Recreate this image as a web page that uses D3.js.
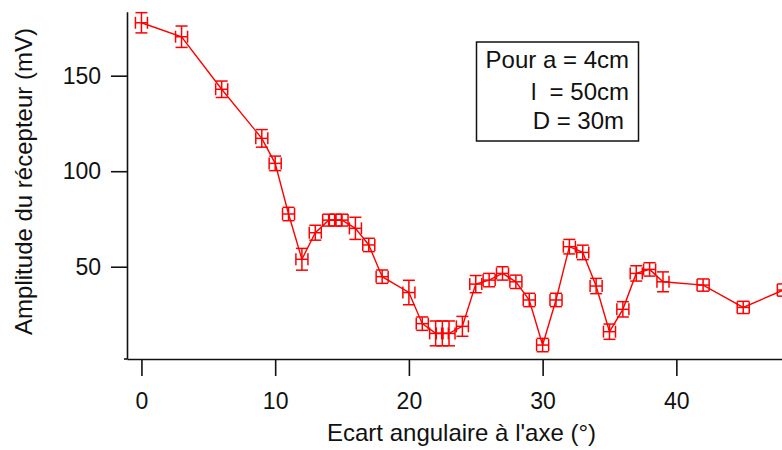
<!DOCTYPE html>
<html>
<head>
<meta charset="utf-8">
<script src="https://cdn.jsdelivr.net/npm/d3@7"></script>
<style>
  body { margin: 0; background: #fff; }
  svg { display: block; font-family: "Liberation Sans", Arial, sans-serif; }
</style>
</head>
<body>
<div id="root"></div>
<script>
'use strict';

var width = 782;
var height = 450;

// angle from the axis (degrees) and receiver amplitude (mV)
var angles = [0, 3, 6, 9, 10, 11, 12, 13, 14, 14.5, 15, 16, 17, 18, 20, 21, 22, 22.5, 23, 24,
  25, 26, 27, 28, 29, 30, 31, 32, 33, 34, 35, 36, 37, 38, 39, 42, 45, 48];
var amps = [177.7, 170.4, 142.9, 117.2, 104.1, 77.6, 53.9, 67.8, 74.4, 74.4, 74.4, 70.1, 61.4, 44.8, 36.5, 20.2, 15.1, 15.1, 15.1, 18.8,
  40.9, 43, 46.5, 42.1, 32.6, 9.0, 32.6, 60.5, 57.5, 39.9, 16, 27.7, 46.5, 48.6, 42.1, 40.4, 28.7, 37.8];
var ampErr = [5.3, 5.6, 4.3, 4.6, 3.8, 3.5, 5.7, 3.9, 3.1, 3.1, 3.1, 5.8, 3.5, 3.5, 6.4, 3.5, 6.5, 6.5, 6.5, 5.2,
  4.5, 3.5, 3.5, 3.5, 3.5, 3.5, 3.5, 3.8, 3.8, 4, 4, 4, 4, 3.5, 5.2, 3.2, 3.2, 3.2];
var angleErr = 0.45;

var xTicks = [0, 10, 20, 30, 40];
var yTicks = [50, 100, 150];
var noteLines = ['Pour a = 4cm', 'l  = 50cm', 'D = 30m'];

var data = angles.map(function(a, i) {
  return { a: a, v: amps[i], e: ampErr[i] };
});

var svg = d3.select('#root')
  .append('svg')
  .attr('width', width)
  .attr('height', height);

var x = d3.scaleLinear().domain([-1.08, 47.9]).range([127, 782]);
var y = d3.scaleLinear().domain([1.7, 183.5]).range([359, 11.7]);

var cap = 6;
var red = '#ff0000';

// error bars
var bars = svg.append('g')
  .attr('stroke', red)
  .attr('stroke-width', 1.5)
  .attr('fill', 'none');

var pt = bars.selectAll('g')
  .data(data)
  .enter()
  .append('g');

pt.append('line')
  .attr('x1', d => x(d.a)).attr('x2', d => x(d.a))
  .attr('y1', d => y(d.v - d.e)).attr('y2', d => y(d.v + d.e));
pt.append('line')
  .attr('x1', d => x(d.a) - cap).attr('x2', d => x(d.a) + cap)
  .attr('y1', d => y(d.v + d.e)).attr('y2', d => y(d.v + d.e));
pt.append('line')
  .attr('x1', d => x(d.a) - cap).attr('x2', d => x(d.a) + cap)
  .attr('y1', d => y(d.v - d.e)).attr('y2', d => y(d.v - d.e));
pt.append('line')
  .attr('x1', d => x(d.a - angleErr)).attr('x2', d => x(d.a + angleErr))
  .attr('y1', d => y(d.v)).attr('y2', d => y(d.v));
pt.append('line')
  .attr('x1', d => x(d.a - angleErr)).attr('x2', d => x(d.a - angleErr))
  .attr('y1', d => y(d.v) - cap).attr('y2', d => y(d.v) + cap);
pt.append('line')
  .attr('x1', d => x(d.a + angleErr)).attr('x2', d => x(d.a + angleErr))
  .attr('y1', d => y(d.v) - cap).attr('y2', d => y(d.v) + cap);

// connecting line
svg.append('path')
  .datum(data)
  .attr('fill', 'none')
  .attr('stroke', red)
  .attr('stroke-width', 1.4)
  .attr('d', d3.line().x(d => x(d.a)).y(d => y(d.v)));

// axes
var xAxis = svg.append('g')
  .attr('transform', 'translate(0,359)')
  .call(d3.axisBottom(x).tickValues(xTicks).tickSize(17).tickSizeOuter(0).tickPadding(17));

var yAxis = svg.append('g')
  .attr('transform', 'translate(127,0)')
  .call(d3.axisLeft(y).tickValues(yTicks).tickSize(16).tickSizeOuter(0).tickPadding(10));

[xAxis, yAxis].forEach(function(g) {
  g.selectAll('path, line').attr('stroke', '#111').attr('stroke-width', 1.6);
  g.selectAll('text').attr('fill', '#111').style('font-size', '23px')
    .style('font-family', '"Liberation Sans", Arial, sans-serif');
});

// little overhang of the x axis left of the y axis
svg.append('line')
  .attr('x1', 124).attr('x2', 127)
  .attr('y1', 359).attr('y2', 359)
  .attr('stroke', '#111').attr('stroke-width', 1.6);

// axis titles
svg.append('text')
  .attr('x', 461.5)
  .attr('y', 441)
  .attr('text-anchor', 'middle')
  .attr('fill', '#111')
  .style('font-size', '24px')
  .text("Ecart angulaire à l'axe (°)");

svg.append('text')
  .attr('transform', 'translate(31.5,181.5) rotate(-90)')
  .attr('text-anchor', 'middle')
  .attr('fill', '#111')
  .style('font-size', '24px')
  .text('Amplitude du récepteur (mV)');

// annotation box
svg.append('rect')
  .attr('x', 476.5).attr('y', 42)
  .attr('width', 162).attr('height', 99)
  .attr('fill', '#fff')
  .attr('stroke', '#111')
  .attr('stroke-width', 1.5);

var noteX = [629, 629, 624];
var noteY = [67.5, 100, 129];
svg.append('g')
  .selectAll('text')
  .data(noteLines)
  .enter()
  .append('text')
  .attr('x', (d, i) => noteX[i])
  .attr('y', (d, i) => noteY[i])
  .attr('text-anchor', 'end')
  .attr('fill', '#111')
  .style('font-size', '24px')
  .style('white-space', 'pre')
  .text(d => d);
</script>
</body>
</html>
